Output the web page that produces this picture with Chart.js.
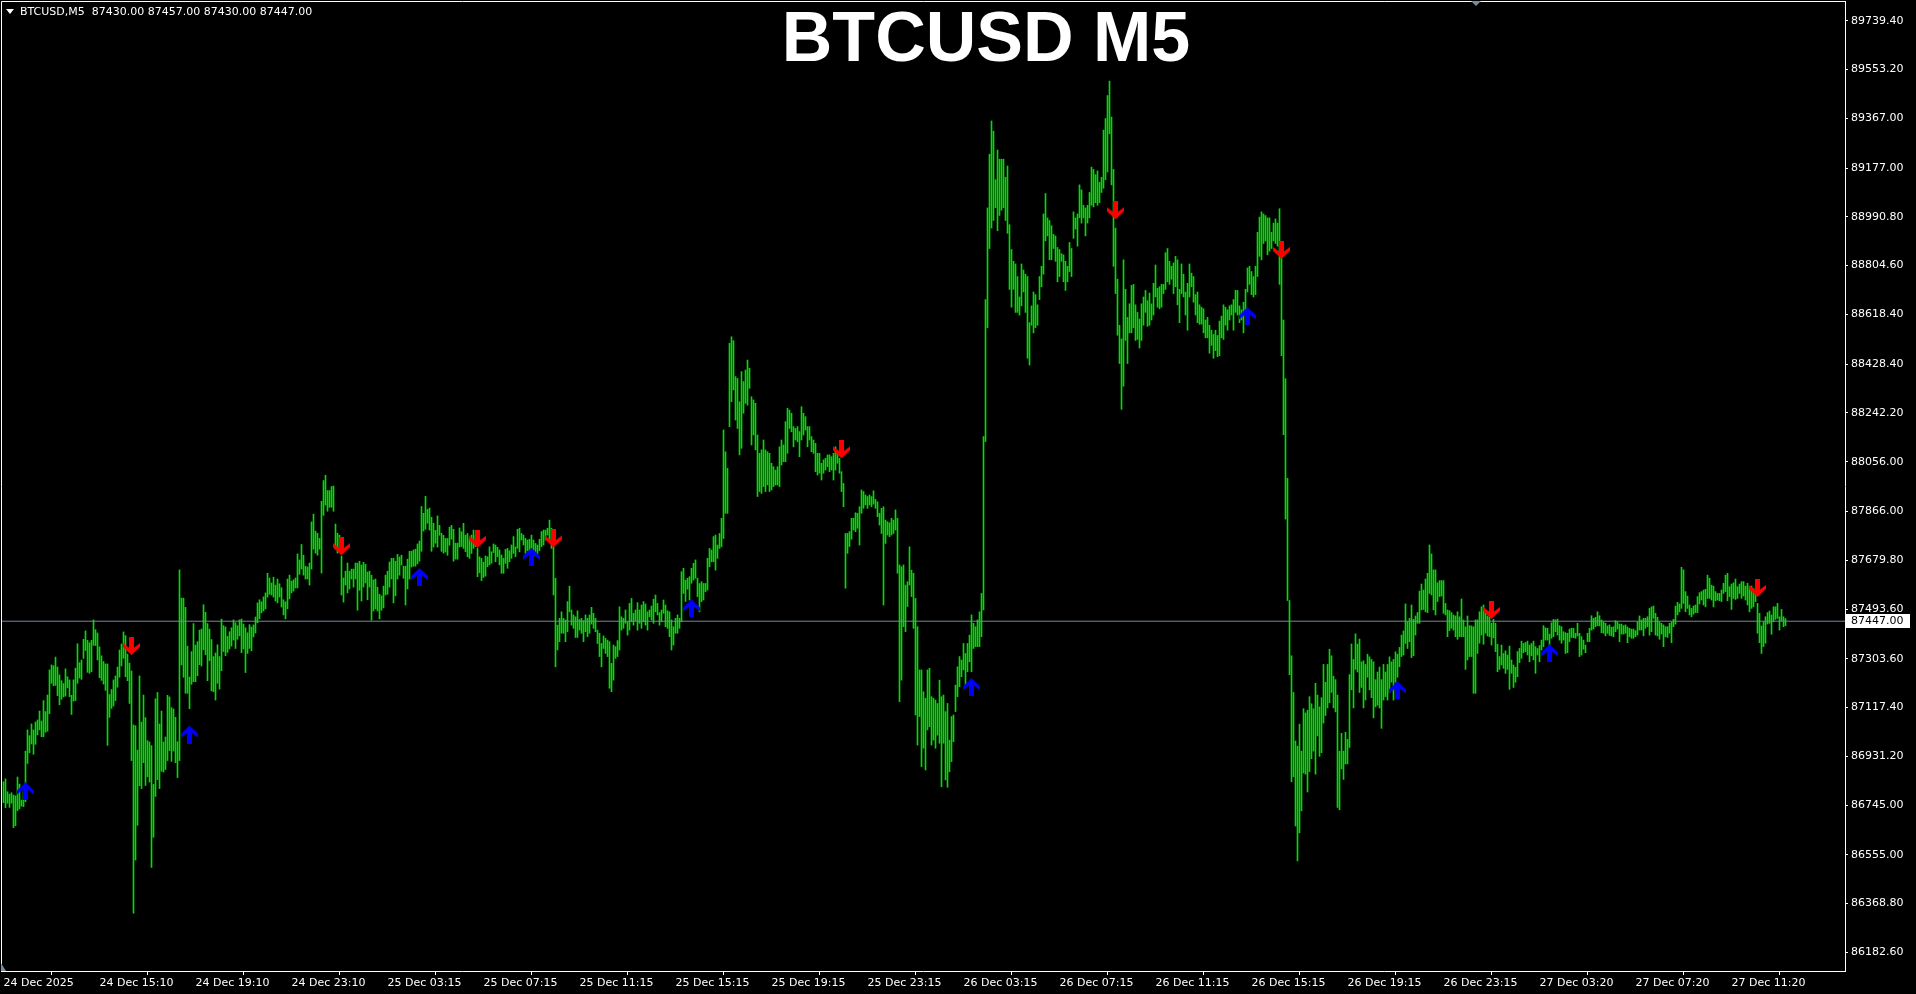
<!DOCTYPE html>
<html>
<head>
<meta charset="utf-8">
<title>BTCUSD M5</title>
<script src="https://cdn.jsdelivr.net/npm/chart.js@4.4.1/dist/chart.umd.min.js"></script>
<style>
  html, body { margin: 0; padding: 0; background: #000; overflow: hidden; }
  #wrap { position: relative; width: 1916px; height: 994px; }
  canvas { display: block; }
  #hdr { position: absolute; left: 20px; top: 5px; font: 11px "DejaVu Sans"; line-height: 13px; color: #fff; white-space: pre; }
  #tri { position: absolute; left: 6px; top: 9px; width: 0; height: 0; border-left: 4px solid transparent; border-right: 4px solid transparent; border-top: 5px solid #fff; }
  #title { position: absolute; left: 986px; top: 2px; transform: translateX(-50%); font: bold 70px "Liberation Sans"; line-height: 70px; color: #fff; white-space: nowrap; }
  #mark1 { position: absolute; left: 1471px; top: 1px; width: 0; height: 0; border-left: 5px solid transparent; border-right: 5px solid transparent; border-top: 5px solid #7a8a99; }
  #mark2 { position: absolute; left: 1px; top: 963px; width: 0; height: 0; border-bottom: 8px solid #7a8a99; border-right: 5px solid transparent; }
</style>
</head>
<body>
<div id="wrap">
  <canvas id="chart" width="1916" height="994"></canvas>
  <div id="tri"></div>
  <div id="hdr"></div>
  <div id="title">BTCUSD M5</div>
  <div id="mark1"></div>
  <div id="mark2"></div>
</div>
<script>
const symbol = 'BTCUSD';
const period = 'M5';
const lastOhlc = [87430.00, 87457.00, 87430.00, 87447.00];

// one M5 bar per entry, oldest first
const highs = [
  86834,86845,86796,86787,86792,86783,86780,86852,86825,86764,
  86796,86951,87032,87010,87055,87032,87062,87070,87104,87066,
  87144,87102,87165,87261,87280,87277,87310,87272,87242,87220,
  87209,87265,87235,87223,87164,87223,87268,87361,87289,87299,
  87378,87410,87374,87365,87374,87452,87415,87402,87349,87315,
  87293,87284,87284,87167,87186,87223,87238,87272,87337,87360,
  87406,87392,87321,87287,87257,87051,87048,86955,87238,87062,
  87165,87079,86991,86986,86972,86824,87151,87175,87055,87104,
  86986,87005,87164,87158,87117,87112,87080,86987,87643,87535,
  87535,87500,87352,87234,87331,87438,87356,87369,87413,87417,
  87510,87481,87438,87417,87377,87312,87326,87357,87312,87455,
  87430,87425,87389,87407,87422,87452,87441,87430,87452,87455,
  87436,87422,87403,87434,
  87425,87433,87463,87517,87529,87521,87540,87555,87630,87612,
  87593,87615,87585,87608,87590,87575,87529,87521,87608,87623,
  87600,87605,87612,87704,87681,87740,87699,87657,87654,87669,
  87826,87856,87791,87783,87763,87905,87984,88004,87946,87946,
  87961,87963,87818,87783,87775,87696,87612,87638,87669,87638,
  87646,87646,87669,87669,87676,87661,87672,87664,87635,87638,
  87623,87605,87608,87577,87550,87544,87581,87623,87638,87673,
  87687,87687,87676,87702,87692,87699,87657,87657,87684,87714,
  87714,87719,87722,87742,87753,87885,87859,87924,87874,87879,
  87844,87821,87794,87849,87813,87783,87775,87763,87763,87806,
  87813,87798,87745,87745,87803,
  87789,87821,87776,87782,87760,87776,87795,87776,87725,87693,
  87687,87672,87696,87693,87731,87712,87742,87738,87729,
  87719,87700,87687,87721,87725,87716,87738,87770,87731,87798,
  87802,87782,87776,87763,87757,87760,87776,87757,87744,87738,
  87760,87789,87795,87795,87802,87833,87802,87731,87611,87432,
  87458,87483,87458,87452,87522,87581,87490,87471,87464,87487,
  87454,87458,87449,87471,87458,87471,87500,87477,87458,87413,
  87401,87362,87391,87382,87375,87369,87286,87356,87350,87373,
  87502,87464,87458,87490,87445,87515,87534,87477,87490,87518,
  87490,87509,87522,87513,87483,87490,87505,87531,87547,87515,
  87480,87490,87528,87509,87487,87483,87452,87426,87458,
  87471,87458,87636,87649,87604,87611,87617,87649,87668,87681,
  87611,87591,87598,87591,87591,87687,87725,87719,87770,87776,
  87738,87782,87840,88177,88094,88031,88508,88533,88518,88381,
  88374,88285,88400,88362,88406,88444,88413,88304,88292,88279,
  88158,88088,88101,88139,88101,88094,88088,88050,88037,88024,
  88037,88113,88139,88120,88209,88260,88253,88241,88190,88183,
  88190,88171,88266,88241,88228,88190,88190,88152,88139,88126,
  88088,88088,88050,88063,88069,88082,88082,88075,88088,88113,
  88088,88069,88018,87973,87782,87782,87789,87840,87840,87861,
  87859,87884,87948,87942,87929,87923,87929,87923,87945,87912,
  87903,87859,87878,87884,87833,87827,87823,87840,87833,87872,
  87840,87662,87655,87662,87585,87598,87731,87642,87630,87534,
  87426,87261,87261,87178,87153,87261,87267,87159,87153,87146,
  87133,87222,87159,87165,87102,87133,86993,87083,87089,87203,
  87273,87312,87299,87362,87324,87362,87394,87471,87439,87426,
  87452,87483,87553,88152,
  88675,89025,89230,89357,89318,89133,89246,89211,89211,89211,
  89142,89185,88961,88866,88821,88811,88763,88685,88811,88788,
  88772,88763,88587,88651,88704,88694,88655,88763,88802,89002,
  89080,88987,88977,88957,88924,88918,88874,88866,88850,88846,
  88821,88802,88893,88870,89010,88987,89002,89113,89094,89035,
  89025,89035,89084,89181,89172,89152,89166,89123,89142,89322,
  89366,89454,89509,89372,89172,88948,88753,88577,88525,88827,
  88714,88607,88659,88729,88733,88655,88626,88601,88659,88685,
  88710,88671,88700,88659,88737,88807,88718,88724,88733,88733,
  88854,88870,88821,88802,88815,88840,88827,88714,88811,88772,
  88704,88737,88811,88776,88763,88694,88704,88655,88646,88640,
  88597,88607,88577,88558,88542,88558,88538,88593,88612,88655,
  88646,88636,88651,88655,88675,88710,88710,88651,88636,88665,
  88714,88796,88802,88782,88763,88802,88932,88990,89010,89002,
  88996,88987,88987,88932,88967,88983,88967,89022,88840,88597,
  88373,87993,87526,87315,87175,86990,86970,87054,86951,87113,
  87097,87107,87159,87132,87113,87210,87165,87120,87155,87282,
  87214,87282,87340,87315,87237,87224,87165,86951,87019,86951,
  87023,86996,87243,87360,87301,87399,87360,87379,87292,87296,
  87282,87321,87311,87301,87292,87224,87253,87272,87224,87282,
  87253,87282,87311,87292,87301,87330,87321,
  87347,87394,87410,87513,87445,87458,87509,87454,87467,87480,
  87562,87589,87566,87608,87630,87738,87704,87643,87643,87594,
  87602,87602,87602,87515,87490,87487,87480,87471,87467,87483,
  87464,87532,87452,87426,87467,87430,87429,87426,87452,87452,
  87483,87502,87509,87477,87467,87464,87439,87454,87439,87359,
  87312,87356,87324,87334,87318,87352,87299,87280,87271,87331,
  87343,87371,87362,87366,87371,87356,87362,87371,87350,87343,
  87354,87375,87430,87422,87420,87398,87441,87454,87452,87455,
  87430,87426,87407,87403,87401,87417,87420,87420,87401,87439,
  87401,87388,87375,87356,87401,87420,87468,87458,87462,87483,
  87468,87452,87445,87439,87429,87433,87424,87426,87449,87445,
  87436,87436,87430,87433,87425,87420,87417,87417,87411,87445,
  87467,87452,87458,87458,87464,87496,87502,87505,87477,87462,
  87445,87439,87433,87426,87426,87439,87444,87454,87505,87519,
  87513,87653,87643,87560,87543,87509,87496,87505,87509,87541,
  87556,87560,87566,87569,87623,87611,87585,87581,87560,87553,
  87553,87566,87592,87623,87630,87579,87589,87594,87608,87579,
  87589,87598,87598,87581,87592,87579,87581,87572,87560,87515,
  87477,87429,87445,87464,87480,87486,87471,87502,87502,87515,
  87464,87492,87464,87457
];
const lows = [
  86754,86735,86752,86736,86752,86659,86666,86724,86730,86741,
  86739,86758,86904,86945,86978,86939,86977,87013,87032,87006,
  87006,87023,87027,87094,87210,87201,87202,87163,87128,87149,
  87158,87161,87193,87159,87091,87142,87144,87210,87230,87225,
  87305,87335,87252,87248,87254,87355,87354,87299,87231,87221,
  87207,87183,86973,87080,87114,87123,87144,87195,87233,87276,
  87305,87235,87220,87133,86915,86332,86535,86668,86819,86808,
  86907,86820,86853,86833,86507,86622,86778,86842,86808,86874,
  86871,86881,86915,86953,86912,86951,86907,86850,86915,87280,
  87233,87172,87172,87113,87206,87216,87216,87239,87281,87276,
  87338,87319,87220,87296,87181,87178,87146,87210,87188,87258,
  87331,87315,87328,87341,87352,87375,87343,87378,87391,87327,
  87341,87251,87324,87343,
  87334,87387,87402,87441,87456,87479,87486,87494,87539,87550,
  87547,87539,87524,87517,87539,87501,87471,87456,87494,87532,
  87555,87562,87574,87574,87626,87646,87623,87608,87608,87585,
  87646,87722,87707,87699,87722,87631,87851,87890,87867,87882,
  87882,87867,87722,87707,87715,87547,87520,87585,87555,87570,
  87608,87577,87608,87489,87565,87524,87577,87593,87529,87577,
  87451,87486,87494,87486,87456,87489,87498,87547,87550,87577,
  87608,87517,87544,87608,87623,87661,87611,87509,87570,87608,
  87654,87657,87657,87666,87676,87714,87791,87798,87821,87795,
  87714,87730,87745,87730,87775,87714,87707,87711,87699,87737,
  87760,87676,87684,87684,87730,
  87732,87725,87712,87693,87687,87706,87725,87732,87617,87632,
  87602,87614,87619,87655,87662,87668,87709,87674,87693,
  87662,87630,87630,87668,87649,87674,87687,87706,87693,87725,
  87712,87757,87738,87706,87716,87706,87725,87693,87706,87696,
  87716,87732,87738,87757,87776,87757,87725,87547,87273,87337,
  87369,87401,87401,87369,87407,87483,87432,87420,87385,87385,
  87413,87401,87369,87407,87388,87401,87436,87420,87407,87362,
  87312,87273,87343,87324,87312,87191,87178,87222,87305,87312,
  87337,87413,87420,87439,87394,87413,87445,87432,87449,87413,
  87439,87420,87445,87432,87413,87464,87452,87439,87483,87471,
  87432,87445,87477,87426,87420,87388,87337,87356,87401,
  87401,87420,87445,87553,87522,87569,87528,87592,87604,87611,
  87541,87483,87522,87528,87560,87566,87655,87674,87674,87642,
  87687,87725,87731,87763,87859,87859,88190,88285,88330,88215,
  88183,88082,88107,88241,88279,88272,88336,88120,88158,88101,
  87923,87942,87935,87961,87942,87967,87942,87948,87961,87967,
  87967,87961,88043,88056,88056,88088,88183,88170,88113,88139,
  88132,88075,88139,88158,88177,88113,88139,88094,88088,88018,
  88005,88012,87986,88012,88024,88037,88018,88024,87986,88024,
  88050,88012,87942,87884,87573,87706,87732,87760,87795,87789,
  87802,87738,87859,87878,87891,87878,87891,87884,87894,87878,
  87846,87814,87782,87509,87744,87776,87770,87776,87782,87795,
  87630,87140,87222,87426,87407,87503,87585,87541,87420,87089,
  86974,87083,86892,86962,86879,87032,87044,86974,86993,86962,
  87012,86981,86815,86981,86841,86813,86872,86911,86987,87102,
  87159,87197,87235,87261,87203,87254,87292,87254,87343,87350,
  87350,87350,87388,87490,
  88133,88568,88870,88948,88977,89026,88938,88996,89016,89026,
  88977,88928,88714,88646,88714,88626,88626,88616,88651,88704,
  88626,88451,88425,88577,88548,88568,88577,88675,88724,88772,
  88899,88918,88827,88827,88870,88821,88743,88763,88821,88743,
  88710,88743,88782,88763,88909,88944,88879,88987,88967,88987,
  88918,88967,88987,89035,89029,89045,89035,89045,89084,89100,
  89133,89162,89308,89113,88802,88698,88539,88431,88256,88344,
  88519,88431,88548,88548,88568,88519,88523,88490,88519,88577,
  88626,88573,88577,88597,88616,88685,88646,88640,88646,88698,
  88714,88743,88733,88753,88698,88724,88655,88587,88698,88685,
  88616,88558,88685,88724,88665,88616,88587,88581,88581,88548,
  88529,88529,88470,88500,88451,88480,88457,88461,88529,88523,
  88577,88558,88597,88616,88558,88626,88616,88587,88597,88548,
  88636,88704,88733,88694,88685,88694,88763,88840,88827,88889,
  88899,88846,88860,88870,88899,88889,88879,88733,88461,88159,
  87837,87526,87243,86834,86853,86665,86532,86639,86723,86867,
  86863,86795,86873,86922,86951,86863,87009,86931,86945,87058,
  87087,87116,87136,87175,87116,87101,86736,86727,86883,86843,
  86902,86902,86965,87185,87116,87263,87253,87175,87194,87116,
  87146,87233,87185,87155,87078,87120,87126,87116,87038,87146,
  87159,87146,87175,87214,87146,87214,87233,
  87273,87312,87318,87362,87343,87369,87308,87315,87394,87439,
  87439,87490,87492,87483,87480,87553,87547,87490,87471,87522,
  87541,87543,87477,87471,87388,87411,87420,87413,87388,87378,
  87388,87388,87388,87263,87299,87312,87312,87172,87172,87324,
  87363,87394,87359,87401,87391,87388,87356,87383,87331,87254,
  87263,87280,87267,87248,87263,87187,87248,87194,87214,87235,
  87289,87305,87327,87331,87318,87292,87315,87299,87248,87318,
  87292,87337,87350,87375,87375,87354,87382,87388,87407,87394,
  87375,87363,87375,87324,87327,87369,87385,87384,87382,87391,
  87312,87318,87340,87327,87369,87369,87413,87417,87426,87430,
  87429,87403,87401,87391,87401,87393,87391,87388,87407,87417,
  87369,87398,87398,87401,87365,87388,87382,87382,87388,87394,
  87413,87413,87391,87420,87426,87394,87407,87458,87394,87391,
  87378,87398,87350,87388,87385,87401,87365,87426,87436,87471,
  87483,87496,87515,87483,87496,87471,87464,87474,87480,87480,
  87513,87528,87509,87502,87534,87534,87528,87502,87525,87528,
  87525,87522,87553,87560,87525,87541,87492,87534,87530,87534,
  87553,87534,87543,87528,87509,87483,87496,87502,87522,87401,
  87365,87324,87350,87363,87436,87439,87397,87445,87454,87458,
  87413,87449,87426,87430
];

// indicator signals: bar index and price where the arrow sits
const buyBars = [11, 93, 208, 264, 344, 484, 622, 697, 773];
const buyPrices = [86797, 87014, 87616, 87693, 87496, 87195, 88611, 87183, 87324];
const sellBars = [64, 169, 237, 275, 419, 556, 639, 744, 877];
const sellPrices = [87352, 87733, 87762, 87763, 88103, 89016, 88865, 87490, 87574];

const priceTicks = [89739.40, 89553.20, 89367.00, 89177.00, 88990.80, 88804.60, 88618.40,
  88428.40, 88242.20, 88056.00, 87866.00, 87679.80, 87493.60, 87303.60, 87117.40,
  86931.20, 86745.00, 86555.00, 86368.80, 86182.60];
const timeLabels = ['24 Dec 2025', '24 Dec 15:10', '24 Dec 19:10', '24 Dec 23:10',
  '25 Dec 03:15', '25 Dec 07:15', '25 Dec 11:15', '25 Dec 15:15', '25 Dec 19:15',
  '25 Dec 23:15', '26 Dec 03:15', '26 Dec 07:15', '26 Dec 11:15', '26 Dec 15:15',
  '26 Dec 19:15', '26 Dec 23:15', '27 Dec 03:20', '27 Dec 07:20', '27 Dec 11:20'];
const barsPerLabel = 48;

const lastPrice = lastOhlc[3];
const xMin = -1.25, xMax = 920.75;
const yMin = 86111.5, yMax = 89815.0;

document.getElementById('hdr').textContent =
  `${symbol},${period}  ` + lastOhlc.map(v => v.toFixed(2)).join(' ');

function makeArrow(color, up) {
  const c = document.createElement('canvas');
  c.width = 17; c.height = 18;
  const g = c.getContext('2d');
  const pts = [[8.5, 0], [17, 8], [17, 12], [11, 7.5], [11, 18], [6, 18], [6, 7.5], [0, 12], [0, 8]];
  g.fillStyle = color;
  g.beginPath();
  pts.forEach(([x, y], i) => {
    const yy = up ? y : 18 - y;
    if (i === 0) g.moveTo(x, yy); else g.lineTo(x, yy);
  });
  g.closePath();
  g.fill();
  return c;
}

const mtFrame = {
  id: 'mtFrame',
  beforeDraw(chart) {
    const c = chart.ctx;
    c.save();
    c.fillStyle = '#000';
    c.fillRect(0, 0, chart.width, chart.height);
    c.restore();
  },
  afterDraw(chart) {
    const { ctx, chartArea: a } = chart;
    ctx.save();
    ctx.strokeStyle = '#fff';
    ctx.lineWidth = 1;
    ctx.beginPath();
    ctx.moveTo(a.left + 0.5, a.bottom);
    ctx.lineTo(a.left + 0.5, a.top + 0.5);
    ctx.lineTo(a.right, a.top + 0.5);
    ctx.stroke();
    // bid label on the price scale
    const y = Math.round(chart.scales.y.getPixelForValue(lastPrice));
    ctx.fillStyle = '#fff';
    ctx.fillRect(a.right + 1, y - 7, 64, 14);
    ctx.fillStyle = '#000';
    ctx.font = '11px "DejaVu Sans"';
    ctx.textBaseline = 'middle';
    ctx.fillText(lastPrice.toFixed(2), a.right + 6, y + 0.5);
    ctx.restore();
  }
};

const tickFont = { family: 'DejaVu Sans', size: 11 };

new Chart(document.getElementById('chart'), {
  type: 'bar',
  data: {
    datasets: [
      {
        type: 'scatter',
        data: buyBars.map((b, i) => ({ x: b, y: buyPrices[i] })),
        pointStyle: makeArrow('#0000ff', true),
        pointRadius: 8,
        order: 0
      },
      {
        type: 'scatter',
        data: sellBars.map((b, i) => ({ x: b, y: sellPrices[i] })),
        pointStyle: makeArrow('#ff0000', false),
        pointRadius: 8,
        order: 0
      },
      {
        type: 'line',
        data: [{ x: xMin, y: lastPrice }, { x: xMax, y: lastPrice }],
        borderColor: '#778899',
        borderWidth: 1,
        pointRadius: 0,
        order: 1
      },
      {
        type: 'bar',
        data: highs.map((h, i) => ({ x: i, y: [lows[i], h] })),
        backgroundColor: '#00dd00',
        borderWidth: 0,
        barThickness: 1,
        maxBarThickness: 1,
        grouped: false,
        order: 2
      }
    ]
  },
  options: {
    responsive: false,
    animation: false,
    devicePixelRatio: 1,
    events: [],
    layout: { autoPadding: false, padding: { top: 1, left: 1, right: 0, bottom: 0 } },
    plugins: {
      legend: { display: false },
      tooltip: { enabled: false }
    },
    scales: {
      x: {
        type: 'linear',
        min: xMin,
        max: xMax,
        offset: false,
        grid: { drawOnChartArea: false, drawTicks: true, tickLength: 4, color: '#ffffff' },
        border: { display: true, color: '#ffffff', width: 1 },
        ticks: {
          autoSkip: false,
          maxRotation: 0,
          align: 'start',
          padding: 2,
          color: '#ffffff',
          font: tickFont,
          callback: (v) => timeLabels[Math.round(v / barsPerLabel)]
        },
        afterBuildTicks: (s) => { s.ticks = timeLabels.map((t, i) => ({ value: i * barsPerLabel })); },
        afterFit: (s) => { s.height = 23; s.paddingLeft = 0; s.paddingRight = 0; }
      },
      y: {
        position: 'right',
        min: yMin,
        max: yMax,
        grid: { drawOnChartArea: false, drawTicks: true, tickLength: 3, color: '#ffffff' },
        border: { display: true, color: '#ffffff', width: 1 },
        ticks: {
          padding: 3,
          color: '#ffffff',
          font: tickFont,
          callback: (v) => Number(v).toFixed(2)
        },
        afterBuildTicks: (s) => { s.ticks = priceTicks.map(v => ({ value: v })); },
        afterFit: (s) => { s.width = 71; s.paddingTop = 0; s.paddingBottom = 0; }
      }
    }
  },
  plugins: [mtFrame]
});
</script>
</body>
</html>
